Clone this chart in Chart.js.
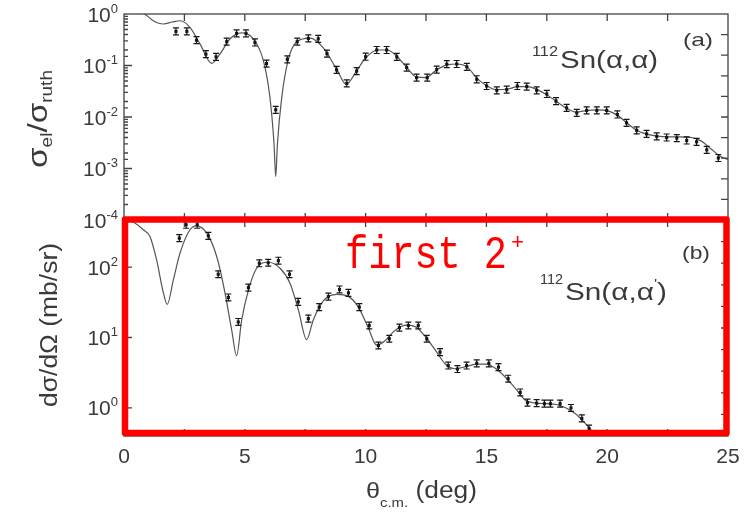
<!DOCTYPE html>
<html>
<head>
<meta charset="utf-8">
<title>112Sn alpha scattering</title>
<script src="https://cdn.jsdelivr.net/npm/chart.js@4.4.1/dist/chart.umd.min.js"></script>
<style>
  body { margin: 0; background: #fff; }
  #wrap { position: relative; width: 745px; height: 514px; }
  #wrap canvas { position: absolute; left: 0; top: 0; }
</style>
</head>
<body>
<div id="wrap">
  <canvas id="elastic" width="745" height="514"></canvas>
  <canvas id="inelastic" width="745" height="514"></canvas>
</div>
<script>
// (a) elastic scattering, ratio to Rutherford: model curve + measured points
const elCurveTheta = [0, 0.35, 0.66, 0.95, 1.21, 1.63, 2.0, 2.32, 2.73, 3.15, 3.63, 3.97, 4.39, 4.87, 5.35, 5.77,
  6.04, 6.21, 6.28, 6.35, 6.53, 6.8, 7.15, 7.7, 8.25, 8.8, 9.2, 9.6, 10.0, 10.5, 10.9, 11.3, 11.7, 12.1, 12.5,
  12.9, 13.4, 13.8, 14.2, 14.6, 15.0, 15.4, 15.9, 16.3, 16.7, 17.1, 17.5, 17.9, 18.3, 18.7, 19.2, 19.6, 20.0,
  20.4, 20.8, 21.2, 21.6, 22.0, 22.5, 23.0, 23.5, 23.9, 24.3, 24.7, 25.0];
const elCurveRatio = [1.0, 1.04, 1.08, 0.92, 0.74, 0.64, 0.70, 0.74, 0.55, 0.26, 0.11, 0.166, 0.33, 0.43, 0.33, 0.124,
  0.024, 0.003, 0.0007, 0.003, 0.024, 0.13, 0.29, 0.34, 0.22, 0.085, 0.043, 0.075, 0.14, 0.2, 0.2, 0.15, 0.092, 0.06, 0.058,
  0.08, 0.104, 0.107, 0.094, 0.057, 0.041, 0.034, 0.035, 0.039, 0.039, 0.034, 0.027, 0.02, 0.015, 0.0125, 0.0135, 0.0138, 0.0133,
  0.011, 0.0078, 0.0056, 0.0047, 0.0043, 0.0041, 0.0041, 0.0040, 0.0034, 0.0024, 0.0017, 0.0015];
const elDataTheta = [2.15, 2.6, 3.0, 3.39, 3.81, 4.25, 4.66, 5.05, 5.42, 5.9, 6.28, 6.76, 7.17, 7.63, 8.04, 8.4,
  8.8, 9.22, 9.63, 10.0, 10.46, 10.87, 11.29, 11.7, 12.11, 12.55, 12.94, 13.36, 13.77, 14.19, 14.6, 15.01,
  15.43, 15.84, 16.28, 16.67, 17.08, 17.5, 17.88, 18.32, 18.74, 19.15, 19.57, 19.98, 20.42, 20.8, 21.22,
  21.63, 22.05, 22.46, 22.88, 23.29, 23.7, 24.12, 24.6];
const elDataRatio = [0.46, 0.46, 0.31, 0.166, 0.147, 0.29, 0.42, 0.42, 0.28, 0.109, 0.0138, 0.132, 0.29, 0.335, 0.33, 0.17,
  0.082, 0.045, 0.078, 0.148, 0.2, 0.2, 0.147, 0.091, 0.058, 0.058, 0.083, 0.106, 0.107, 0.094, 0.054, 0.04,
  0.033, 0.034, 0.04, 0.039, 0.033, 0.028, 0.0204, 0.015, 0.012, 0.0134, 0.0134, 0.0134, 0.0112, 0.0077, 0.0055,
  0.0047, 0.0042, 0.0040, 0.0039, 0.0035, 0.0033, 0.0023, 0.0016];

// (b) inelastic scattering to the first 2+ state, mb/sr
const inCurveTheta = [0.1, 0.45, 0.8, 1.08, 1.35, 1.63, 1.79, 2.04, 2.32, 2.73, 3.0, 3.42, 3.84, 4.18, 4.46, 4.66,
  4.87, 5.15, 5.49, 5.97, 6.46, 6.87, 7.22, 7.56, 7.83, 8.25, 8.8, 9.3, 9.7, 10.1, 10.46, 10.8, 11.2, 11.7,
  12.1, 12.5, 12.9, 13.3, 13.7, 14.2, 14.6, 15.0, 15.4, 15.8, 16.2, 16.6, 17.0, 17.5, 17.9, 18.3, 18.7, 19.1, 19.35];
const inCurveSigma = [480, 420, 338, 270, 126, 43, 29.6, 65, 158, 338, 385, 305, 140, 43, 12.6, 5.5,
  17.6, 47, 96, 117, 96, 59, 24.5, 9.3, 17.6, 33, 41, 38, 27, 14, 7.8, 9, 12.5, 15,
  14, 10, 6.5, 4.2, 3.6, 3.9, 4.2, 4.2, 3.6, 2.7, 1.9, 1.3, 1.18, 1.15, 1.12, 1.0, 0.82, 0.6, 0.48];
const inDataTheta = [2.29, 2.57, 3.03, 3.49, 3.9, 4.32, 4.73, 5.15, 5.6, 5.97, 6.39, 6.85, 7.21, 7.63, 8.08, 8.46,
  8.92, 9.29, 9.74, 10.15, 10.53, 10.98, 11.4, 11.77, 12.18, 12.53, 13.08, 13.42, 13.8, 14.18, 14.6, 15.1,
  15.5, 15.9, 16.4, 16.7, 17.08, 17.4, 17.65, 18.05, 18.5, 18.95, 19.25];
const inDataSigma = [257, 398, 398, 277, 79, 37, 16.6, 51, 113, 115, 123, 79, 32, 18.5, 27, 38,
  48, 43, 27, 14.8, 7.7, 9.6, 13.8, 14.8, 14.8, 9.6, 6.2, 4.0, 3.57, 4.0, 4.3, 4.3,
  3.8, 2.6, 1.66, 1.19, 1.17, 1.15, 1.15, 1.15, 1.0, 0.71, 0.51];

const thetaLabels = [0, 5, 10, 15, 20, 25];
const elRelErr = 0.17;
const inRelErr = 0.12;

const FONT = '"Liberation Sans", Arial, sans-serif';
const INK = '#3a3a3a';

const pairs = (xs, ys) => xs.map((x, i) => ({ x: x, y: ys[i] }));
const isDecade = v => Math.abs(Math.log10(v) - Math.round(Math.log10(v))) < 1e-6;

// draw a row of text pieces [text, size, dy]; optionally squeezed/stretched to a width
function drawRuns(ctx, x, y, runs, opt) {
  opt = opt || {};
  const family = opt.family || FONT;
  let w = 0;
  runs.forEach(r => { ctx.font = r[1] + 'px ' + family; w += ctx.measureText(r[0]).width; });
  const sx = opt.width ? opt.width / w : 1;
  let x0 = x;
  if (opt.align === 'right') x0 = x - w * sx;
  if (opt.align === 'center') x0 = x - w * sx / 2;
  ctx.save();
  ctx.translate(x0, y);
  ctx.scale(sx, 1);
  ctx.textBaseline = 'alphabetic';
  ctx.textAlign = 'left';
  let cx = 0;
  runs.forEach(r => {
    ctx.font = r[1] + 'px ' + family;
    ctx.fillText(r[0], cx, r[2]);
    cx += ctx.measureText(r[0]).width;
  });
  ctx.restore();
}

// box round the plot, inward ticks, decade labels
const frame = {
  id: 'frame',
  afterDraw(chart, args, opts) {
    const { ctx, chartArea: a, scales } = chart;
    ctx.save();
    ctx.strokeStyle = '#444';
    ctx.lineWidth = 1.3;
    ctx.strokeRect(a.left, a.top, a.right - a.left, a.bottom - a.top);
    ctx.beginPath();
    scales.x.ticks.forEach(t => {
      const px = scales.x.getPixelForValue(t.value);
      if (px < a.left + 1 || px > a.right - 1) return;
      ctx.moveTo(px, a.top); ctx.lineTo(px, a.top + 7);
      ctx.moveTo(px, a.bottom); ctx.lineTo(px, a.bottom - 7);
    });
    scales.y.ticks.forEach(t => {
      const py = scales.y.getPixelForValue(t.value);
      if (py < a.top + 1 || py > a.bottom - 1) return;
      const len = isDecade(t.value) ? 8 : 4;
      ctx.moveTo(a.left, py); ctx.lineTo(a.left + len, py);
    });
    scales.yr.ticks.forEach(t => {
      const py = scales.yr.getPixelForValue(t.value);
      if (py < a.top + 1 || py > a.bottom - 1) return;
      ctx.moveTo(a.right, py); ctx.lineTo(a.right - 7, py);
    });
    ctx.stroke();

    ctx.fillStyle = INK;
    scales.y.ticks.forEach(t => {
      if (!isDecade(t.value)) return;
      const py = scales.y.getPixelForValue(t.value);
      const e = Math.round(Math.log10(t.value));
      drawRuns(ctx, a.left - 6, py + 7.5, [['10', 21, 0], [String(e), 13, -9]], { align: 'right' });
    });
    if (opts.xLabels) {
      thetaLabels.forEach(v => {
        const px = scales.x.getPixelForValue(v);
        drawRuns(ctx, px, a.bottom + 27, [[String(v), 21, 0]], { align: 'center' });
      });
    }
    ctx.restore();
  }
};

const errorBars = {
  id: 'errorBars',
  afterDatasetsDraw(chart) {
    const { ctx } = chart;
    const y = chart.scales.y;
    chart.data.datasets.forEach((ds, i) => {
      if (!ds.relErr) return;
      const meta = chart.getDatasetMeta(i);
      ctx.save();
      ctx.strokeStyle = '#151515';
      ctx.lineWidth = 1.2;
      ctx.beginPath();
      meta.data.forEach((pt, j) => {
        const v = ds.data[j].y;
        const hi = y.getPixelForValue(v * (1 + ds.relErr));
        const lo = y.getPixelForValue(v / (1 + ds.relErr));
        ctx.moveTo(pt.x, hi); ctx.lineTo(pt.x, lo);
        ctx.moveTo(pt.x - 3, hi); ctx.lineTo(pt.x + 3, hi);
        ctx.moveTo(pt.x - 3, lo); ctx.lineTo(pt.x + 3, lo);
      });
      ctx.stroke();
      ctx.restore();
    });
  }
};

function panelOptions(yMin, yMax, padding, xLabels) {
  const hidden = { display: false };
  return {
    responsive: false,
    animation: false,
    events: [],
    layout: { padding: padding },
    plugins: { legend: hidden, tooltip: { enabled: false }, frame: { xLabels: xLabels } },
    scales: {
      x: { type: 'linear', min: 0, max: 25, ticks: { stepSize: 2.5, display: false },
           grid: hidden, border: hidden, afterFit: s => { s.height = 0; } },
      y: { type: 'logarithmic', min: yMin, max: yMax, ticks: { display: false },
           grid: hidden, border: hidden, afterFit: s => { s.width = 0; } },
      yr: { type: 'linear', position: 'right', min: 0, max: 10, ticks: { stepSize: 1, display: false },
            grid: hidden, border: hidden, afterFit: s => { s.width = 0; } }
    }
  };
}

function curveSet(data) {
  return { data: data, showLine: true, borderColor: '#555', borderWidth: 1.2, pointRadius: 0,
           cubicInterpolationMode: 'monotone', fill: false, order: 2 };
}
function pointSet(data, err) {
  return { data: data, showLine: false, pointStyle: 'rect', pointRadius: 2.2,
           backgroundColor: '#151515', borderColor: '#151515', borderWidth: 0, relErr: err, order: 1 };
}

const elasticText = {
  id: 'elasticText',
  afterDraw(chart) {
    const ctx = chart.ctx;
    ctx.save();
    ctx.fillStyle = INK;
    drawRuns(ctx, 683, 46, [['(a)', 19, 0]], { width: 30 });
    drawRuns(ctx, 532, 56, [['112', 14, 0]], { width: 26 });
    drawRuns(ctx, 560, 68, [['Sn(α,α)', 23, 0]], { width: 98 });
    ctx.translate(47, 119);
    ctx.rotate(-Math.PI / 2);
    drawRuns(ctx, 0, 0, [['σ', 28, 0], ['el', 16, 5], ['/', 28, 0], ['σ', 28, 0], ['ruth', 16, 5]],
             { align: 'center', width: 98 });
    ctx.restore();
  }
};

const inelasticText = {
  id: 'inelasticText',
  afterDraw(chart) {
    const ctx = chart.ctx;
    ctx.save();
    ctx.fillStyle = INK;
    drawRuns(ctx, 682, 259, [['(b)', 19, 0]], { width: 28 });
    drawRuns(ctx, 540, 284, [['112', 14, 0]], { width: 23 });
    drawRuns(ctx, 565, 300, [['Sn(α,α', 23, 0], ['\'', 13, -12], [')', 23, 0]], { width: 102 });
    drawRuns(ctx, 366, 498, [['θ', 22, 0], ['c.m.', 13, 9], [' (deg)', 23, 0]], { width: 111 });
    ctx.save();
    ctx.translate(57, 325);
    ctx.rotate(-Math.PI / 2);
    drawRuns(ctx, 0, 0, [['dσ/dΩ (mb/sr)', 23, 0]], { align: 'center', width: 164 });
    ctx.restore();

    // highlight box and caption
    ctx.strokeStyle = '#ff0000';
    ctx.lineWidth = 6.5;
    ctx.lineJoin = 'round';
    ctx.strokeRect(125, 219.5, 601.5, 213.5);
    ctx.fillStyle = '#ff0000';
    drawRuns(ctx, 345, 268, [['first 2', 46, 0]], { width: 162, family: '"Liberation Mono", "DejaVu Sans Mono", monospace' });
    drawRuns(ctx, 511, 249, [['+', 22, 0]], { family: '"Liberation Mono", "DejaVu Sans Mono", monospace' });
    ctx.restore();
  }
};

new Chart(document.getElementById('elastic'), {
  type: 'scatter',
  data: { datasets: [curveSet(pairs(elCurveTheta, elCurveRatio)), pointSet(pairs(elDataTheta, elDataRatio), elRelErr)] },
  options: panelOptions(1e-4, 1, { left: 124, right: 17, top: 14, bottom: 294 }, false),
  plugins: [frame, errorBars, elasticText]
});

new Chart(document.getElementById('inelastic'), {
  type: 'scatter',
  data: { datasets: [curveSet(pairs(inCurveTheta, inCurveSigma)), pointSet(pairs(inDataTheta, inDataSigma), inRelErr)] },
  options: panelOptions(0.4, 465, { left: 124, right: 17, top: 220, bottom: 78 }, true),
  plugins: [frame, errorBars, inelasticText]
});
</script>
</body>
</html>
